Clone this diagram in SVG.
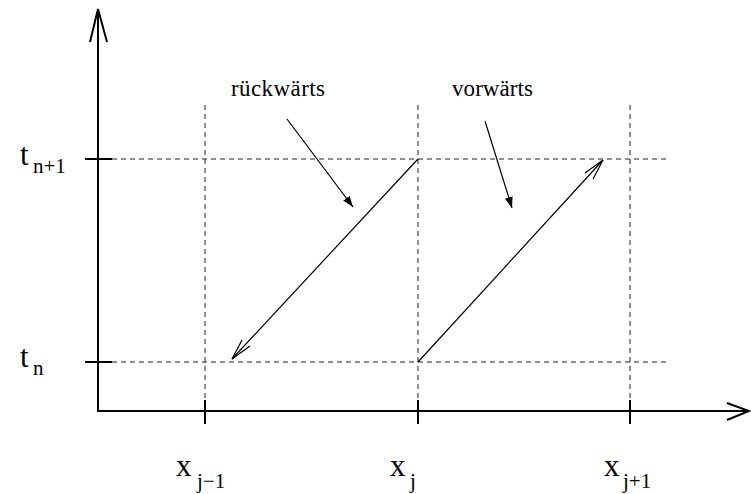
<svg xmlns="http://www.w3.org/2000/svg" width="751" height="494" viewBox="0 0 751 494">
<style>
.axis{stroke:#000;stroke-width:2;fill:none}
.grid{stroke:#222;stroke-width:1;stroke-dasharray:5 4;fill:none}
.ln{stroke:#000;stroke-width:1.2;fill:none}
.lbl{font-family:"Liberation Serif",serif;fill:#000}
.big{font-size:31px}
.sub{font-size:21px}
.word{font-size:23px}
</style>
<defs>
<marker id="fill" markerWidth="12" markerHeight="8" refX="11" refY="4" orient="auto" markerUnits="userSpaceOnUse">
<path d="M0,0 L11,4 L0,8 Z" fill="#000"/>
</marker>
</defs>
<rect width="751" height="494" fill="#fff"/>
<g id="grid">
<line class="grid" x1="112" y1="159" x2="670" y2="159"/>
<line class="grid" x1="112" y1="362" x2="670" y2="362"/>
<line class="grid" x1="205" y1="105" x2="205" y2="410"/>
<line class="grid" x1="418" y1="105" x2="418" y2="410"/>
<line class="grid" x1="630" y1="105" x2="630" y2="410"/>
</g>
<g id="axes">
<line class="axis" x1="98" y1="411" x2="98" y2="9"/>
<polyline class="axis" points="90,42 98,9 107,42"/>
<line class="axis" x1="97" y1="411" x2="749" y2="411"/>
<polyline class="axis" points="727,403 749,411 727,420"/>
<line class="axis" x1="85" y1="159" x2="112" y2="159"/>
<line class="axis" x1="85" y1="362" x2="112" y2="362"/>
<line class="axis" x1="205" y1="400" x2="205" y2="424"/>
<line class="axis" x1="418" y1="400" x2="418" y2="424"/>
<line class="axis" x1="630" y1="400" x2="630" y2="424"/>
</g>
<g id="connectors">
<line class="ln" x1="418" y1="159" x2="232" y2="359"/>
<polyline class="ln" points="242,340 232,359 250,346"/>
<line class="ln" x1="418" y1="362" x2="603" y2="160"/>
<polyline class="ln" points="585,173 603,160 593,179"/>
<line class="ln" x1="287" y1="119" x2="353" y2="207" marker-end="url(#fill)"/>
<line class="ln" x1="485" y1="121" x2="512" y2="208" marker-end="url(#fill)"/>
</g>
<g id="label-rueckwaerts"><text class="lbl word" x="231" y="96" textLength="94">rückwärts</text></g>
<g id="label-vorwaerts"><text class="lbl word" x="452" y="96" textLength="81">vorwärts</text></g>
<g id="label-tn1"><text class="lbl big" x="20" y="165">t</text><text class="lbl sub" x="33" y="173">n+1</text></g>
<g id="label-tn"><text class="lbl big" x="20" y="367">t</text><text class="lbl sub" x="33" y="375">n</text></g>
<g id="label-xj-1"><text class="lbl big" x="176" y="476">x</text><text class="lbl sub" x="197" y="488">j−1</text></g>
<g id="label-xj"><text class="lbl big" x="390" y="476">x</text><text class="lbl sub" x="410" y="488">j</text></g>
<g id="label-xj+1"><text class="lbl big" x="604" y="476">x</text><text class="lbl sub" x="623" y="488">j+1</text></g>
</svg>
